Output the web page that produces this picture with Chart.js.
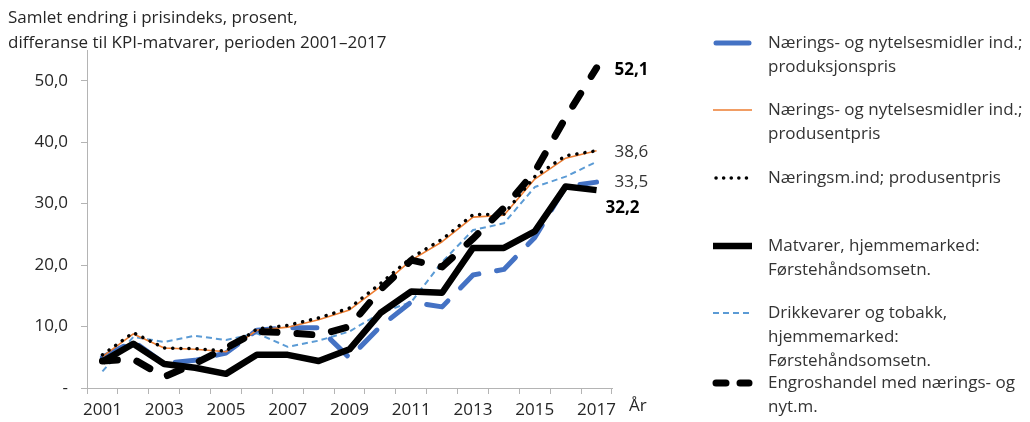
<!DOCTYPE html>
<html><head><meta charset="utf-8">
<script src="https://cdn.jsdelivr.net/npm/chart.js@4.4.1/dist/chart.umd.min.js"></script>
<style>html,body{margin:0;padding:0;background:#fff;}#wrap{position:relative;width:1030px;height:422px;}</style>
</head><body><div id="wrap"><canvas id="c" width="1030" height="422"></canvas></div>
<script>
const years = ['2001','2002','2003','2004','2005','2006','2007','2008','2009','2010','2011','2012','2013','2014','2015','2016','2017'];
const yTicks = [0, 10, 20, 30, 40, 50];
const produksjonspris = [5.0, 7.6, 4.0, 4.5, 5.7, 9.4, 9.8, 9.8, 4.9, 10.0, 14.0, 13.2, 18.4, 19.3, 24.5, 32.8, 33.5];
const produsentpris = [5.1, 8.8, 6.5, 6.3, 5.9, 9.4, 9.9, 11.1, 12.7, 16.5, 20.8, 23.8, 27.8, 28.1, 34.0, 37.4, 38.6];
const naeringsmInd = [5.4, 9.0, 6.5, 6.4, 6.0, 9.6, 10.2, 11.4, 13.0, 17.0, 21.2, 24.2, 28.2, 28.3, 34.4, 37.8, 38.6];
const matvarer = [4.3, 7.2, 3.9, 3.3, 2.3, 5.4, 5.4, 4.4, 6.3, 12.2, 15.7, 15.5, 22.8, 22.8, 25.5, 32.8, 32.2];
const drikkevarer = [2.7, 8.3, 7.5, 8.5, 7.8, 8.9, 6.7, 7.7, 9.2, 12.2, 14.0, 20.5, 25.7, 26.8, 32.7, 34.4, 36.8];
const engroshandel = [4.4, 4.7, 1.8, 4.0, 6.5, 9.2, 9.0, 8.6, 10.0, 16.0, 20.8, 19.7, 24.3, 29.3, 35.2, 44.0, 52.1];
const seriesNames = [
  ['Nærings- og nytelsesmidler ind.;', 'produksjonspris'],
  ['Nærings- og nytelsesmidler ind.;', 'produsentpris'],
  ['Næringsm.ind; produsentpris'],
  ['Matvarer, hjemmemarked:', 'Førstehåndsomsetn.'],
  ['Drikkevarer og tobakk,', 'hjemmemarked:', 'Førstehåndsomsetn.'],
  ['Engroshandel med nærings- og', 'nyt.m.']
];
const titleLines = ['Samlet endring i prisindeks, prosent,', 'differanse til KPI-matvarer, perioden 2001–2017'];

const FONT = '"Open Sans", "DejaVu Sans", sans-serif';
const TXT = '#262626';
const AXIS = '#b4b4b4';

const styles = [
  {color:'#4472C4', width:5, dash:[24,18], cap:'round', order:4},
  {color:'#ED7D31', width:1.6, dash:[], cap:'butt', order:3},
  {color:'#000000', width:3.5, dash:[0.1,8], cap:'round', order:2},
  {color:'#000000', width:6.5, dash:[], cap:'butt', order:1},
  {color:'#5B9BD5', width:2, dash:[6,4], cap:'butt', order:5},
  {color:'#000000', width:7, dash:[15,20], cap:'round', order:0}
];
const allData = [produksjonspris, produsentpris, naeringsmInd, matvarer, drikkevarer, engroshandel];

const datasets = allData.map((d, i) => ({
  label: seriesNames[i].join(' '),
  data: d,
  borderColor: styles[i].color,
  borderWidth: styles[i].width,
  borderDash: styles[i].dash,
  borderCapStyle: styles[i].cap,
  borderJoinStyle: 'round',
  pointRadius: 0,
  tension: 0,
  fill: false,
  order: styles[i].order
}));

const endLabels = [
  {ds:5, text:'52,1', bold:true, dx:18, dy:2},
  {ds:1, text:'38,6', bold:false, dx:18, dy:1},
  {ds:0, text:'33,5', bold:false, dx:18, dy:0},
  {ds:3, text:'32,2', bold:true, dx:9, dy:18}
];

const overlay = {
  id: 'overlay',
  afterDraw(chart) {
    const ctx = chart.ctx;
    ctx.save();
    ctx.fillStyle = TXT;
    ctx.font = '17px ' + FONT;
    ctx.textBaseline = 'middle';
    ctx.textAlign = 'left';
    ctx.fillText(titleLines[0], 8, 18);
    ctx.fillText(titleLines[1], 8, 43);
    ctx.fillText('År', 629, 406);
    endLabels.forEach(l => {
      const meta = chart.getDatasetMeta(l.ds);
      const pt = meta.data[meta.data.length - 1];
      ctx.font = (l.bold ? 'bold ' : '') + '17px ' + FONT;
      ctx.fillStyle = l.bold ? '#000' : '#333';
      ctx.fillText(l.text, pt.x + l.dx, pt.y + l.dy);
    });
    const rows = [43, 110, 178, 246, 313, 383];
    const lh = 24;
    rows.forEach((y, i) => {
      const s = styles[i];
      ctx.beginPath();
      ctx.strokeStyle = s.color;
      ctx.lineWidth = s.width;
      ctx.lineCap = s.cap;
      let dash = s.dash;
      if (i === 5) dash = [10, 14];
      if (i === 2) dash = [0.1, 7.5];
      if (i === 0) dash = [];
      ctx.setLineDash(dash);
      const x0 = (s.cap === 'round') ? 716 : 713;
      const x1 = (s.cap === 'round') ? 749 : 752;
      ctx.moveTo(x0, y);
      ctx.lineTo(x1, y);
      ctx.stroke();
      ctx.setLineDash([]);
      ctx.fillStyle = '#333';
      ctx.font = '17px ' + FONT;
      ctx.textAlign = 'left';
      ctx.textBaseline = 'middle';
      seriesNames[i].forEach((t, k) => ctx.fillText(t, 768, y + k * lh));
    });
    ctx.restore();
  }
};

new Chart(document.getElementById('c'), {
  type: 'line',
  data: { labels: years, datasets },
  options: {
    responsive: false,
    animation: false,
    devicePixelRatio: 1,
    layout: { padding: { left: 0, top: 50, right: 418, bottom: 0 } },
    plugins: { legend: { display: false }, tooltip: { enabled: false }, title: { display: false } },
    scales: {
      x: {
        type: 'category',
        offset: true,
        grid: { offset: true, drawOnChartArea: false, drawTicks: true, tickLength: 6, color: AXIS, lineWidth: 1 },
        border: { display: true, color: AXIS, width: 1 },
        ticks: {
          autoSkip: false, maxRotation: 0, minRotation: 0, padding: 6,
          color: TXT, font: { size: 17, family: FONT },
          callback: (v, i) => (i % 2 === 0 ? years[i] : '')
        },
        afterFit: s => { s.height = 34; }
      },
      y: {
        min: 0, max: 55,
        afterBuildTicks: s => { s.ticks = yTicks.map(v => ({ value: v })); },
        grid: { display: true, drawOnChartArea: false, drawTicks: true, tickLength: 6, color: AXIS },
        border: { display: true, color: AXIS, width: 1 },
        ticks: {
          padding: 13, color: TXT, font: { size: 17, family: FONT },
          callback: v => (v === 0 ? '-' : v.toFixed(1).replace('.', ','))
        },
        afterFit: s => { s.width = 87; }
      }
    }
  },
  plugins: [overlay]
});
</script></body></html>
